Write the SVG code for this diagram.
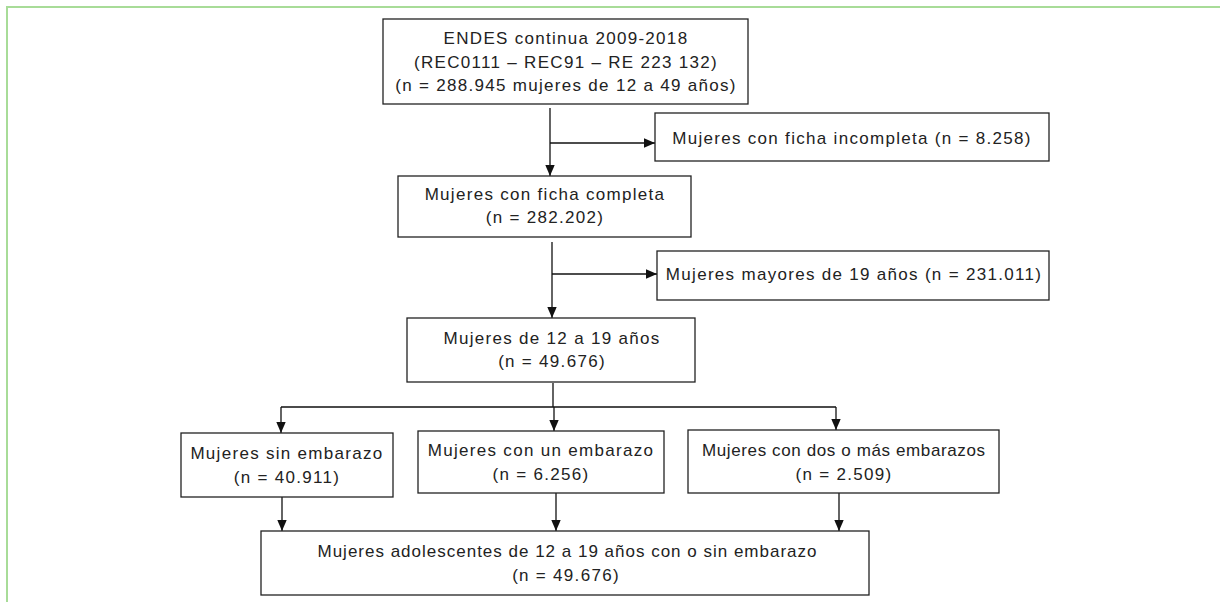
<svg xmlns="http://www.w3.org/2000/svg" width="1220" height="602" viewBox="0 0 1220 602">
<defs>
<style>
.box{fill:#fff;stroke:#222;stroke-width:1.3}
.t{font-family:"Liberation Sans",Arial,sans-serif;font-size:17px;letter-spacing:1.3px;fill:#222;text-anchor:middle}
.n{letter-spacing:0}
.c{fill:none;stroke:#111;stroke-width:1.3}
</style>
<marker id="ah" viewBox="0 0 11 10" refX="11" refY="5" markerWidth="11" markerHeight="10" markerUnits="userSpaceOnUse" orient="auto">
<path d="M0,0.3 L11,5 L0,9.7 Z" fill="#111"/>
</marker>
</defs>
<rect width="1220" height="602" fill="#fff"/>
<path d="M7,602 L7,7 L1220,7" fill="none" stroke="#a8dc98" stroke-width="2"/>

<g id="connectors">
<path class="c" d="M550,108 V176" marker-end="url(#ah)"/>
<path class="c" d="M550,143 H655" marker-end="url(#ah)"/>
<path class="c" d="M552,242 V318" marker-end="url(#ah)"/>
<path class="c" d="M552,274 H657" marker-end="url(#ah)"/>
<path class="c" d="M553,383 V407 M281,407 H836"/>
<path class="c" d="M281,407 V433" marker-end="url(#ah)"/>
<path class="c" d="M554,407 V431" marker-end="url(#ah)"/>
<path class="c" d="M836,407 V430" marker-end="url(#ah)"/>
<path class="c" d="M282,497 V531" marker-end="url(#ah)"/>
<path class="c" d="M556,493 V531" marker-end="url(#ah)"/>
<path class="c" d="M839,493 V531" marker-end="url(#ah)"/>
</g>

<g id="n1">
<rect class="box" x="383" y="19" width="365" height="85"/>
<text class="t" x="566" y="44">ENDES continua 2009-2018</text>
<text class="t" x="566" y="67.5">(REC0111 – REC91 – RE 223 132)</text>
<text class="t" x="566" y="91">(n = 288.945 mujeres de 12 a 49 años)</text>
</g>
<g id="n2">
<rect class="box" x="655" y="113" width="394" height="48"/>
<text class="t" x="852" y="143.5">Mujeres con ficha incompleta (n = 8.258)</text>
</g>
<g id="n3">
<rect class="box" x="398" y="176" width="293" height="61"/>
<text class="t" x="545" y="199.5">Mujeres con ficha completa</text>
<text class="t" x="545" y="223">(n = 282.202)</text>
</g>
<g id="n4">
<rect class="box" x="657" y="251" width="392" height="49"/>
<text class="t" x="854" y="279.5">Mujeres mayores de 19 años (n = 231.011)</text>
</g>
<g id="n5">
<rect class="box" x="407" y="318" width="288" height="64"/>
<text class="t" x="552" y="343.5">Mujeres de 12 a 19 años</text>
<text class="t" x="552" y="367">(n = 49.676)</text>
</g>
<g id="n6">
<rect class="box" x="181" y="433" width="212" height="64"/>
<text class="t" x="287" y="459">Mujeres sin embarazo</text>
<text class="t" x="287" y="482.5">(n = 40.911)</text>
</g>
<g id="n7">
<rect class="box" x="418" y="431" width="246" height="62"/>
<text class="t" x="541" y="456">Mujeres con un embarazo</text>
<text class="t" x="541" y="479.5">(n = 6.256)</text>
</g>
<g id="n8">
<rect class="box" x="688" y="430" width="311" height="63"/>
<text class="t n" x="843.5" y="456" textLength="283" lengthAdjust="spacing">Mujeres con dos o más embarazos</text>
<text class="t" x="844" y="479.5">(n = 2.509)</text>
</g>
<g id="n9">
<rect class="box" x="261" y="531" width="608" height="64"/>
<text class="t n" x="567" y="557" textLength="499" lengthAdjust="spacing">Mujeres adolescentes de 12 a 19 años con o sin embarazo</text>
<text class="t" x="566" y="580.5">(n = 49.676)</text>
</g>
</svg>
